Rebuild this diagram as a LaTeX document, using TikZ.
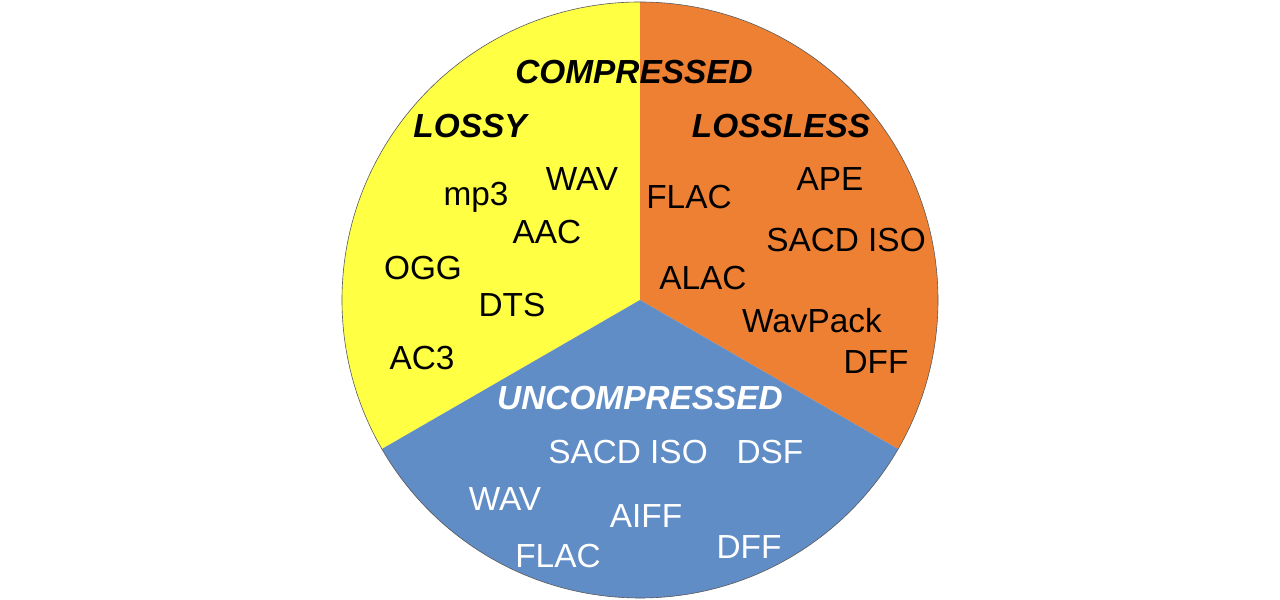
\documentclass[tikz,border=0pt]{standalone}
\usepackage{fontspec}
\setmainfont{Liberation Sans}
\definecolor{lossyyellow}{HTML}{FFFF44}
\definecolor{losslessorange}{HTML}{EE8033}
\definecolor{rawblue}{HTML}{618DC6}
\tikzset{
  fmt/.style={font=\fontsize{33.5}{38}\selectfont},
  head/.style={font=\fontsize{33.5}{38}\selectfont\bfseries\itshape}
}
\begin{document}
\begin{tikzpicture}[x=1bp,y=1bp]
  \useasboundingbox (0,0) rectangle (1280,600);
  % Sectors
  \coordinate (c) at (640,300);
  \fill[lossyyellow] (c) -- ++(90:298) arc (90:210:298) -- cycle;
  \fill[losslessorange] (c) -- ++(-30:298) arc (-30:90:298) -- cycle;
  \fill[rawblue] (c) -- ++(210:298) arc (210:330:298) -- cycle;
  \draw[gray!70!black,line width=0.6bp] (c) circle (298);

  % Headings
  \node[head] (compressed) at (634,528) {COMPRESSED};
  \node[head] (lossy) at (470,474) {LOSSY};
  \node[head] (lossless) at (781,474) {LOSSLESS};
  \node[head,white] (uncompressed) at (640,202) {UNCOMPRESSED};

  % Lossy formats
  \foreach \name/\x/\y/\txt in {ly1/582/421/WAV, ly2/476/403/mp3, ly3/547/368/AAC,
      ly4/423/332/OGG, ly5/512/295/DTS, ly6/422/242/AC3}
    \node[fmt] (\name) at (\x,\y) {\txt};

  % Lossless formats
  \foreach \name/\x/\y/\txt in {ll1/689/403/FLAC, ll2/830/421/APE, ll3/846/360/SACD ISO,
      ll4/703/322/ALAC, ll5/812/279/WavPack, ll6/876/238/DFF}
    \node[fmt] (\name) at (\x,\y) {\txt};

  % Uncompressed formats
  \foreach \name/\x/\y/\txt in {un1/628/148/SACD ISO, un2/770/148/DSF, un3/505/101/WAV,
      un4/646/84/AIFF, un5/749/53/DFF, un6/558/44/FLAC}
    \node[fmt,white] (\name) at (\x,\y) {\txt};
\end{tikzpicture}
\end{document}
